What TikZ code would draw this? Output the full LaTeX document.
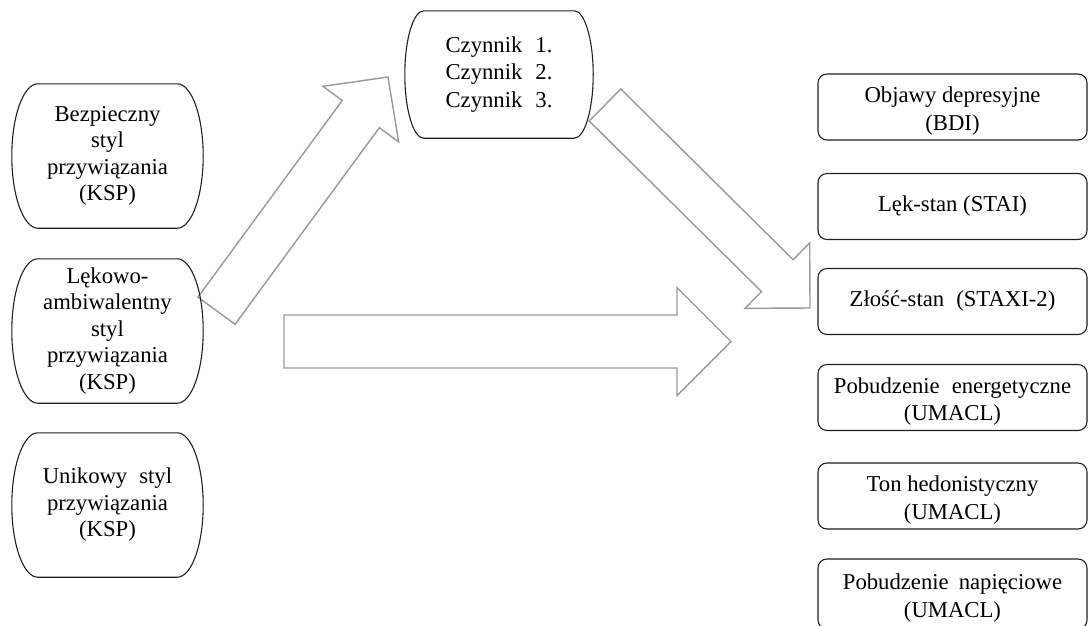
\documentclass[tikz,border=0pt]{standalone}
\usepackage{fontspec}
\setmainfont{Liberation Serif}
\usetikzlibrary{calc}
\newcommand\blockarrow[5]{%
  \path let \p1=(#1), \p2=(#2) in
    \pgfextra{\pgfmathsetmacro\baAng{atan2(\y2-\y1,\x2-\x1)}\pgfmathsetmacro\baLen{veclen(\x2-\x1,\y2-\y1)}\xdef\baAng{\baAng}\xdef\baLen{\baLen}};
  \begin{scope}[shift={(#1)}, rotate=\baAng]
    \draw[blk] (0pt,#3pt) -- ({\baLen pt-#5pt},#3pt) -- ({\baLen pt-#5pt},#4pt) -- (\baLen pt,0pt) -- ({\baLen pt-#5pt},-#4pt) -- ({\baLen pt-#5pt},-#3pt) -- (0pt,-#3pt) -- cycle;
  \end{scope}}
\begin{document}
\begin{tikzpicture}[x=1pt,y=-1pt,
  txt/.style={font=\fontsize{22.7}{27.5}\selectfont, align=center, inner sep=0pt},
  ltxt/.style={font=\fontsize{22.7}{26.5}\selectfont, align=center, inner sep=0pt},
  ovalbox/.style={ltxt, minimum width=191pt, minimum height=144pt},
  rbox/.style={draw=black!88, line width=1.1pt, rounded corners=9pt, minimum width=269pt, minimum height=66pt, inner sep=0pt},
  rtext/.style={txt, yshift=-4pt},
  outl/.style={draw=black!88, line width=1.1pt},
  blk/.style={draw=black!40, line width=1.4pt, fill=white, line join=miter}]
\useasboundingbox (0,0) rectangle (1089,625);

% arrows
\coordinate (a1t) at (216.5,310.7); \coordinate (a1h) at (388,77);
\coordinate (a2t) at (605,105);     \coordinate (a2h) at (810,308);
\coordinate (a3t) at (284,341.5);   \coordinate (a3h) at (731,341.5);
\blockarrow{a1t}{a1h}{23}{47}{46}
\blockarrow{a2t}{a2h}{22.5}{46}{46}
\blockarrow{a3t}{a3h}{26.5}{54}{54}

% left nodes
\node[ovalbox] (L1) at (107.5,156) {Bezpieczny\\styl\\przywiązania\\(KSP)};
\node[ovalbox] (L2) at (107.5,331) {Lękowo-\\ambiwalentny\\styl\\przywiązania\\(KSP)};
\node[ovalbox] (L3) at (107.5,505) {Unikowy\hspace{12pt}styl\\przywiązania\\(KSP)};
\node[txt, align=left, minimum width=188pt, minimum height=127pt] (C) at (499,74.5)
  {Czynnik\hspace{13pt}1.\\Czynnik\hspace{13pt}2.\\Czynnik\hspace{13pt}3.};
\foreach \nd/\r in {L1/26,L2/26,L3/26,C/19}{
  \draw[outl] let \p1=(\nd.north west), \p2=(\nd.south east), \n1={(\y1-\y2)/2} in
    ({\x1+\r pt},\y1) -- ({\x2-\r pt},\y1)
    arc[start angle=90, end angle=-90, x radius=\r pt, y radius={\n1*1pt}]
    -- ({\x1+\r pt},\y2)
    arc[start angle=270, end angle=90, x radius=\r pt, y radius={\n1*1pt}] -- cycle;
}

% right nodes
\node[rbox] (R1) at (952.5,107) {};
\node[rbox] (R2) at (952.5,206.5) {};
\node[rbox] (R3) at (952.5,301.5) {};
\node[rbox] (R4) at (952.5,397.5) {};
\node[rbox] (R5) at (952.5,496) {};
\node[rbox, minimum height=70pt] (R6) at (952.5,594) {};
\node[rtext] (R1t) at (R1.center) {Objawy depresyjne\\(BDI)};
\node[txt] (R2t) at (R2.center) {Lęk-stan (STAI)};
\node[txt] (R3t) at (R3.center) {Złość-stan\hspace{12pt}(STAXI-2)};
\node[rtext] (R4t) at (R4.center) {Pobudzenie\hspace{12pt}energetyczne\\(UMACL)};
\node[rtext] (R5t) at (R5.center) {Ton hedonistyczny\\(UMACL)};
\node[rtext] (R6t) at (R6.center) {Pobudzenie\hspace{10pt}napięciowe\\(UMACL)};
\end{tikzpicture}
\end{document}
